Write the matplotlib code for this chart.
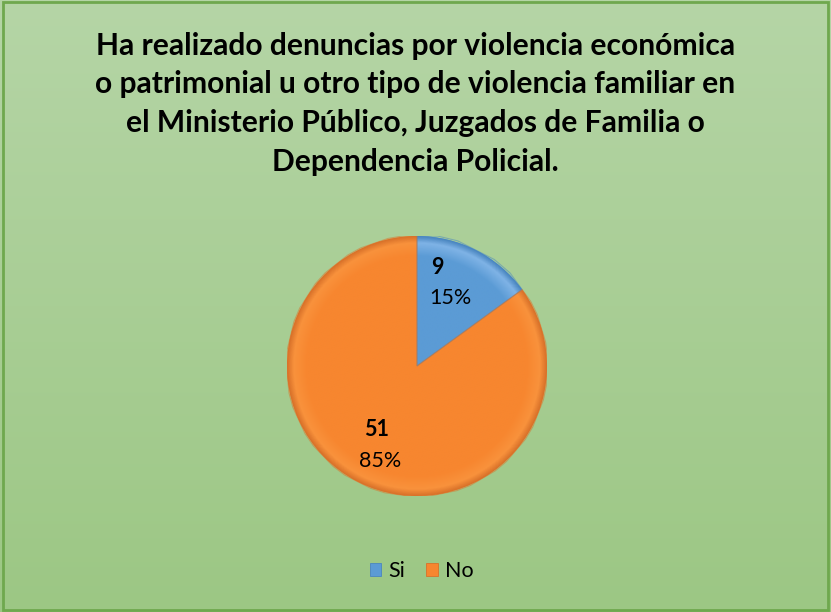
import numpy as np
import matplotlib
matplotlib.use("Agg")
import matplotlib.pyplot as plt
from matplotlib.patches import Rectangle, Patch
from matplotlib.colors import LinearSegmentedColormap

categories = ["Si", "No"]
counts = [9, 51]
percents = ["15%", "85%"]
title = ("Ha realizado denuncias por violencia económica\n"
         "o patrimonial u otro tipo de violencia familiar en\n"
         "el Ministerio Público, Juzgados de Familia o\n"
         "Dependencia Policial.")

base_colors = ["#5b9bd5", "#f7862f"]
light_colors = ["#7fb3e6", "#f9923c"]
edge_colors = ["#4a86c0", "#d9722a"]

plt.rcParams["font.family"] = ["Lato", "DejaVu Sans"]

fig = plt.figure(figsize=(8.31, 6.12), dpi=100)

# background gradient
bg = fig.add_axes([0, 0, 1, 1], zorder=0)
grad = np.linspace(0, 1, 256).reshape(-1, 1)
bg_cmap = LinearSegmentedColormap.from_list("bg", ["#b5d5a6", "#9cc784"])
bg.imshow(grad, aspect="auto", cmap=bg_cmap, extent=[0, 1, 0, 1], origin="upper")
bg.add_patch(Rectangle((0.004, 0.004), 0.992, 0.992, fill=False,
                       edgecolor="#6fa84e", lw=2.0, transform=bg.transAxes))
bg.set_xlim(0, 1); bg.set_ylim(0, 1)
bg.axis("off")

fig.text(0.5, 0.948, title, ha="center", va="top", fontsize=21.6,
         fontweight="bold", color="black", linespacing=1.46)

# pie
cx, cy, r = 417 / 831, 1 - 366 / 612, 130
ax = fig.add_axes([cx - r / 831, cy - r / 612, 2 * r / 831, 2 * r / 612], zorder=1)
wedges, _ = ax.pie(counts, startangle=90, counterclock=False,
                   colors=base_colors, radius=1.0,
                   wedgeprops=dict(edgecolor="none"))
ax.set_xlim(-1, 1); ax.set_ylim(-1, 1)
ax.set_aspect("equal")
ax.axis("off")

# soft radial shading within each slice
yy, xx = np.mgrid[-1:1:400j, -1:1:400j]
rr = np.sqrt(xx ** 2 + yy ** 2)
for w, c0, c1, ce in zip(wedges, light_colors, base_colors, edge_colors):
    cmap = LinearSegmentedColormap.from_list("s", [(0, c1), (0.85, c1), (0.95, c0), (1.0, ce)])
    shade = np.clip(rr, 0, 1)
    im = ax.imshow(shade, cmap=cmap, vmin=0, vmax=1, extent=[-1, 1, -1, 1],
                   origin="lower", zorder=2, interpolation="bilinear")
    im.set_clip_path(w)
    w.set_zorder(1)
    ax.add_patch(plt.Polygon(w.get_path().vertices, closed=True, fill=False,
                             edgecolor=ce, lw=0.8, alpha=0.5, zorder=3,
                             transform=w.get_transform()))

# data labels
label_pos = [((437, 268), (450, 298)), ((377, 430), (380, 461))]
for (p1, p2), n, pct in zip(label_pos, counts, percents):
    fig.text(p1[0] / 831, 1 - p1[1] / 612, str(n), ha="center", va="center",
             fontsize=15.5, fontweight="bold", color="black", zorder=5)
    fig.text(p2[0] / 831, 1 - p2[1] / 612, pct, ha="center", va="center",
             fontsize=15.5, color="black", zorder=5)

handles = [Patch(facecolor=c, edgecolor=e, lw=0.6) for c, e in zip(base_colors, edge_colors)]
fig.legend(handles, categories, loc="center", bbox_to_anchor=(0.507, 1 - 571 / 612),
           ncol=2, frameon=False, fontsize=15.5, handlelength=0.55, handleheight=0.55,
           handletextpad=0.3, columnspacing=1.0)

fig.savefig("out.png", dpi=100)
